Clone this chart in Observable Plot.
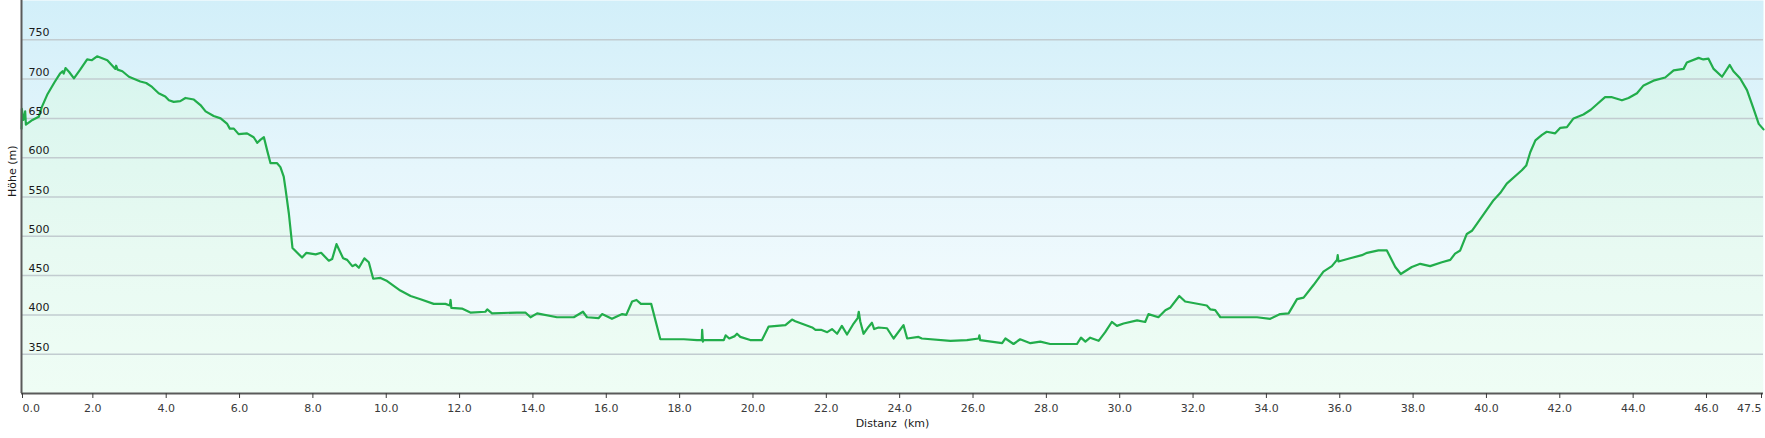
<!DOCTYPE html>
<html>
<head>
<meta charset="utf-8">
<script src="https://cdn.jsdelivr.net/npm/d3@7"></script>
<script src="https://cdn.jsdelivr.net/npm/@observablehq/plot@0.6"></script>
<style>
  html, body { margin: 0; padding: 0; background: #ffffff; }
  svg { display: block; }
</style>
</head>
<body>
<script>
const distanzKm = [
  0.00, 0.01, 0.05, 0.08, 0.10, 0.12, 0.30, 0.47, 0.55, 0.70, 0.90, 1.05, 1.12, 1.15, 1.20, 1.30, 1.43, 1.60, 1.79, 1.92,
  2.06, 2.34, 2.56, 2.58, 2.62, 2.75, 2.93, 3.24, 3.40, 3.56, 3.74, 3.92, 4.02, 4.15, 4.33, 4.47, 4.70, 4.88, 5.02, 5.24,
  5.43, 5.61, 5.68, 5.79, 5.92, 6.15, 6.33, 6.43, 6.52, 6.61, 6.70, 6.79, 6.97, 7.06, 7.15, 7.20, 7.29, 7.39, 7.65, 7.77,
  8.02, 8.17, 8.38, 8.47, 8.59, 8.77, 8.88, 9.02, 9.11, 9.20, 9.35, 9.47, 9.59, 9.79, 9.97, 10.33, 10.61, 10.88, 11.24, 11.56,
  11.68, 11.70, 11.72, 12.01, 12.24, 12.65, 12.70, 12.83, 13.51, 13.74, 13.88, 14.06, 14.60, 15.06, 15.31, 15.42, 15.74, 15.83, 16.10, 16.38,
  16.49, 16.65, 16.77, 16.89, 17.17, 17.42, 18.06, 18.42, 18.55, 18.56, 18.58, 18.60, 19.15, 19.20, 19.30, 19.45, 19.51, 19.60, 19.87, 20.19,
  20.37, 20.83, 21.01, 21.10, 21.56, 21.65, 21.80, 21.97, 22.10, 22.24, 22.37, 22.51, 22.69, 22.80, 22.83, 22.87, 22.96, 23.10, 23.19, 23.25,
  23.37, 23.60, 23.78, 24.05, 24.15, 24.46, 24.55, 25.33, 25.78, 26.10, 26.12, 26.14, 26.74, 26.83, 27.05, 27.23, 27.51, 27.78, 28.05, 28.78,
  28.89, 29.01, 29.14, 29.37, 29.55, 29.73, 29.87, 30.05, 30.42, 30.64, 30.73, 31.00, 31.19, 31.32, 31.57, 31.73, 32.32, 32.42, 32.55, 32.69,
  33.14, 33.69, 34.05, 34.32, 34.55, 34.78, 34.96, 35.23, 35.50, 35.73, 35.87, 35.89, 35.91, 36.23, 36.55, 36.69, 37.00, 37.23, 37.46, 37.61,
  37.91, 38.14, 38.41, 38.73, 38.96, 39.09, 39.23, 39.41, 39.55, 40.14, 40.32, 40.50, 40.91, 41.03, 41.14, 41.28, 41.46, 41.59, 41.82, 41.96,
  42.14, 42.32, 42.59, 42.79, 42.96, 43.18, 43.37, 43.64, 43.82, 44.05, 44.23, 44.50, 44.82, 45.05, 45.32, 45.41, 45.73, 45.86, 46.00, 46.14,
  46.37, 46.58, 46.68, 46.86, 47.05, 47.23, 47.37, 47.50
];
const hoeheM = [
  637, 662, 648, 652, 659, 642, 648, 652, 664, 680, 696, 707, 710, 707, 714, 709, 701, 712, 725, 724,
  729, 724, 713, 717, 712, 710, 703, 697, 695, 690, 682, 678, 673, 671, 672, 676, 674, 667, 659, 653,
  650, 643, 637, 637, 630, 631, 626, 619, 623, 626, 609, 593, 593, 588, 576, 560, 529, 485, 473, 479,
  477, 479, 469, 471, 490, 472, 470, 462, 464, 460, 472, 467, 446, 447, 443, 431, 424, 420, 414, 414,
  412, 419, 409, 408, 403, 404, 407, 402, 403, 403, 397, 402, 397, 397, 404, 397, 396, 401, 395, 401,
  400, 417, 419, 414, 414, 369, 369, 368, 368, 381, 366, 368, 368, 374, 370, 373, 376, 372, 368, 368,
  385, 387, 394, 392, 384, 381, 381, 378, 382, 376, 386, 375, 389, 396, 404, 392, 376, 385, 390, 382,
  384, 383, 370, 387, 370, 372, 370, 367, 368, 370, 374, 368, 364, 370, 363, 369, 364, 366, 363, 363,
  371, 366, 371, 367, 378, 391, 386, 389, 393, 391, 401, 397, 406, 409, 424, 417, 412, 407, 406, 397,
  397, 397, 395, 401, 402, 420, 422, 438, 455, 462, 470, 476, 468, 472, 476, 479, 482, 482, 461, 452,
  461, 465, 462, 467, 470, 478, 482, 503, 507, 546, 555, 567, 584, 590, 607, 622, 629, 633, 631, 638,
  639, 650, 655, 661, 668, 677, 677, 673, 676, 682, 692, 698, 702, 711, 713, 721, 727, 725, 726, 713,
  703, 718, 710, 701, 686, 662, 643, 636
];
const xTickValues = [0, 2, 4, 6, 8, 10, 12, 14, 16, 18, 20, 22, 24, 26, 28, 30, 32, 34, 36, 38, 40, 42, 44, 46, 47.5];
const yTickValues = [350, 400, 450, 500, 550, 600, 650, 700, 750];
const xLabel = "Distanz\u00a0\u00a0(km)";
const yLabel = "Höhe (m)";

const profile = distanzKm.map((d, i) => ({km: d, h: hoeheM[i]}));
const fmt = d3.format(".1f");
const xFirst = xTickValues.slice(0, 1);
const xMid = xTickValues.slice(1, -1);
const xLast = xTickValues.slice(-1);

const svg = Plot.plot({
  width: 1765,
  height: 438,
  marginLeft: 21,
  marginRight: 2,
  marginTop: 0,
  marginBottom: 45,
  style: {fontFamily: "'DejaVu Sans', Verdana, sans-serif", fontSize: "11px", color: "#1a1a1a", background: "#ffffff"},
  x: {domain: [0, 47.5]},
  y: {domain: [300, 800]},
  marks: [
    Plot.frame({fill: "url(#bgGrad)", stroke: "none"}),
    Plot.areaY(profile, {x: "km", y1: 300, y2: "h", fill: "url(#areaGrad)"}),
    Plot.gridY(yTickValues, {stroke: "#c2ccd0", strokeOpacity: 1, strokeWidth: 1.5}),
    Plot.line(profile, {x: "km", y: "h", stroke: "#22ad4b", strokeWidth: 2.2}),
    Plot.ruleX([0], {stroke: "#5a5a5a", strokeWidth: 2}),
    Plot.ruleY([300], {stroke: "#5a5a5a", strokeWidth: 2}),
    Plot.axisY(yTickValues, {anchor: "left", tickSize: 0, tickPadding: 0, textAnchor: "start", dx: 7, dy: -7, tickFormat: d => String(d), color: "#1a1a1a", label: null}),
    Plot.axisX(xFirst, {anchor: "bottom", tickSize: 5, tickPadding: 6, textAnchor: "start", dx: 1, tickFormat: fmt, color: "#3a3a3a", label: null}),
    Plot.axisX(xMid, {anchor: "bottom", tickSize: 5, tickPadding: 6, dx: -2, tickFormat: fmt, color: "#3a3a3a", label: null}),
    Plot.axisX(xLast, {anchor: "bottom", tickSize: 5, tickPadding: 6, textAnchor: "end", dx: -2, tickFormat: fmt, color: "#3a3a3a", label: null}),
    Plot.text([yLabel], {frameAnchor: "left", rotate: -90, dx: -9, fill: "#1a1a1a"}),
    Plot.text([xLabel], {frameAnchor: "bottom", dy: 33, fill: "#1a1a1a"})
  ]
});

const ns = "http://www.w3.org/2000/svg";
const defs = document.createElementNS(ns, "defs");
defs.innerHTML = `
  <linearGradient id="bgGrad" x1="0" y1="0" x2="0" y2="1">
    <stop offset="0" stop-color="#d2eff9"/>
    <stop offset="0.43" stop-color="#e6f6fc"/>
    <stop offset="0.72" stop-color="#f0fafd"/>
    <stop offset="1" stop-color="#f5fcfe"/>
  </linearGradient>
  <linearGradient id="areaGrad" gradientUnits="userSpaceOnUse" x1="0" y1="0" x2="0" y2="393">
    <stop offset="0" stop-color="#d4f5ee"/>
    <stop offset="0.15" stop-color="#d7f5ee"/>
    <stop offset="0.43" stop-color="#e1f8f0"/>
    <stop offset="0.64" stop-color="#e8faf2"/>
    <stop offset="1" stop-color="#effdf5"/>
  </linearGradient>`;
svg.insertBefore(defs, svg.firstChild);
document.body.appendChild(svg);
</script>
</body>
</html>
